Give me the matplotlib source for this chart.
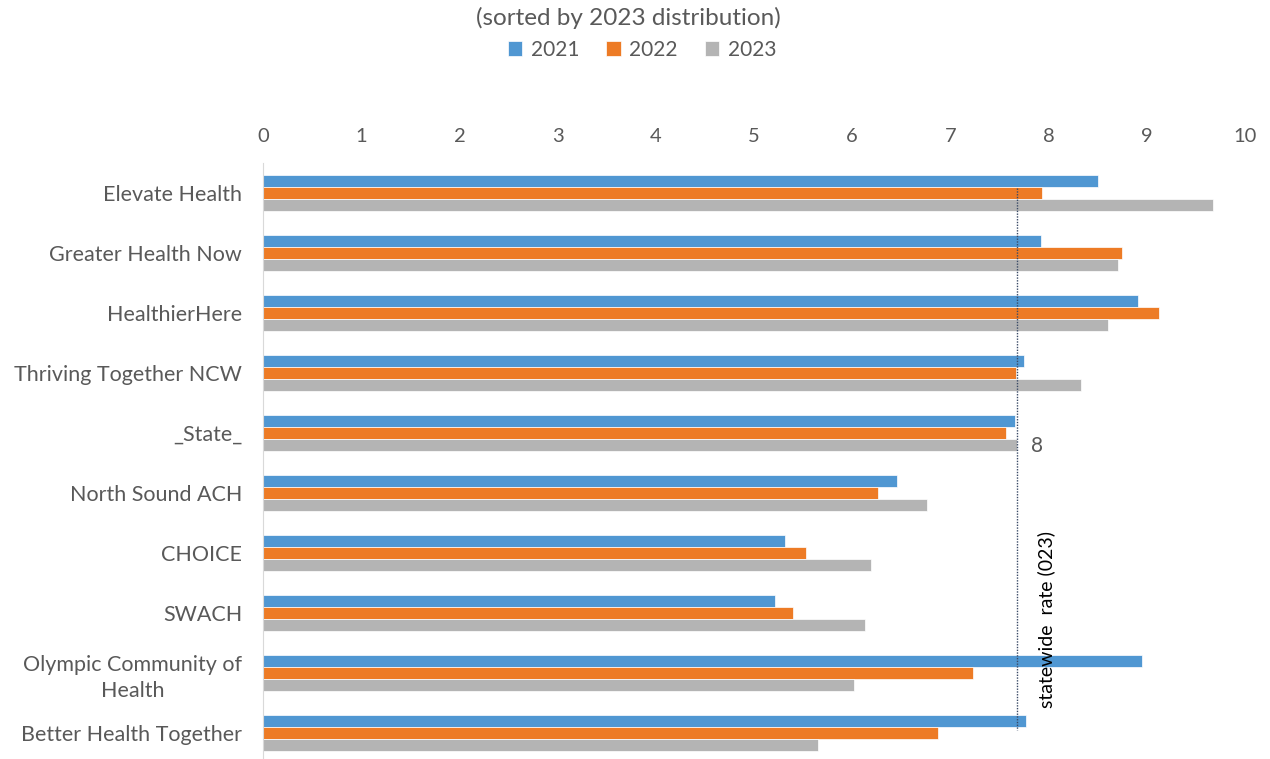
import numpy as np
import matplotlib.pyplot as plt

plt.rcParams['font.family'] = ['Lato', 'DejaVu Sans']

regions = ['Elevate Health', 'Greater Health Now', 'HealthierHere',
           'Thriving Together NCW', '_State_', 'North Sound ACH', 'CHOICE',
           'SWACH', 'Olympic Community of\nHealth', 'Better Health Together']
y2021 = [8.50, 7.92, 8.91, 7.75, 7.66, 6.46, 5.32, 5.21, 8.95, 7.77]
y2022 = [7.93, 8.75, 9.12, 7.67, 7.57, 6.26, 5.53, 5.40, 7.23, 6.87]
y2023 = [9.67, 8.71, 8.60, 8.33, 7.68, 6.76, 6.19, 6.13, 6.02, 5.65]
statewide = 7.68
xticks = list(range(0, 11))

grey_txt = '#595959'
colors = ['#5097D2', '#ED7B25', '#B4B4B4']

fig = plt.figure(figsize=(12.7, 7.59), dpi=100)
ax = fig.add_axes([263 / 1270, 0, (1245 - 263) / 1270, 596 / 759])

y = np.arange(len(regions))
h = 0.2
for off, vals, c, lab in zip([-h, 0, h], [y2021, y2022, y2023], colors,
                             ['2021', '2022', '2023']):
    ax.barh(y + off, vals, height=h, color=c, edgecolor='white',
            linewidth=0.5, label=lab)

# statewide reference line
ax.plot([statewide, statewide], [-0.08, 8.95], color='#3a4a66',
        linestyle=(0, (1, 1)), linewidth=1)
ax.text(statewide + 0.2, 4.22, '8', fontsize=15, color=grey_txt,
        va='center', ha='center')
ax.text(statewide + 0.3, 7.1, 'statewide  rate (023)', rotation=90,
        fontsize=14, color='black', va='center', ha='center')

ax.set_xlim(0, 10)
ax.set_ylim(9.43, -0.5)
ax.set_xticks(xticks)
ax.xaxis.tick_top()
ax.tick_params(axis='x', length=0, labelsize=14.5, labelcolor=grey_txt, pad=13)
ax.set_yticks(y)
ax.set_yticklabels(regions, fontsize=15.5, color=grey_txt, ha='right',
                   multialignment='center', linespacing=1.35)
ax.tick_params(axis='y', length=0, pad=15)
for s in ['top', 'right', 'bottom']:
    ax.spines[s].set_visible(False)
ax.spines['left'].set_color('#d9d9d9')

fig.text(628 / 1270, 1 - 18 / 759, '(sorted by 2023 distribution)',
         fontsize=17.5, color=grey_txt, ha='center', va='center')
fig.legend(loc='center', bbox_to_anchor=(642 / 1270, 1 - 50 / 759), ncol=3,
           frameon=False, fontsize=15, labelcolor=grey_txt, handlelength=0.7,
           handleheight=0.7, handletextpad=0.4, columnspacing=1.3)

fig.savefig('out.png', dpi=100)
